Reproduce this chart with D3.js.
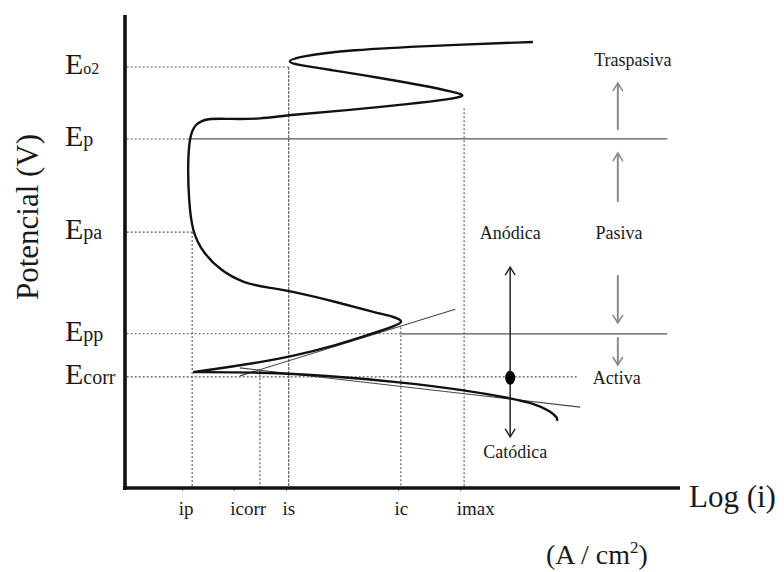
<!DOCTYPE html>
<html><head><meta charset="utf-8">
<script src="https://cdn.jsdelivr.net/npm/d3@7"></script>
<style>
html,body{margin:0;padding:0;background:#fff;}
text{font-family:"Liberation Serif","DejaVu Serif",serif;fill:#1a1a1a;}
</style></head>
<body><svg id="c" width="784" height="572"></svg>
<script>
// ---- data (arbitrary log(i) units on x, potential units on y) ----
const levelNames = ["o2", "p", "pa", "pp", "corr"];
const levelValues = [8.90, 7.38, 5.41, 3.26, 2.35];
const currentNames = ["p", "corr", "s", "c", "max"];
const currentValues = [1.21, 2.43, 2.95, 4.97, 6.11];
const currentTops = [5.41, 2.49, 8.90, 3.40, 8.03];
const tickPositions = [1.03, 1.96, 2.90, 4.92, 6.04];

const anodicX = [1.23,1.89,2.43,2.96,3.82,4.50,4.86,5.03,4.86,4.54,3.82,2.96,2.61,2.13,1.71,1.41,1.21,1.15,1.13,1.16,1.26,1.48,1.89,2.43,2.96,4.05,5.14,5.86,6.16,5.95,5.32,4.60,3.69,3.15,2.88,3.15,4.05,5.50,7.35];
const anodicY = [2.45,2.56,2.66,2.77,3.02,3.28,3.43,3.51,3.62,3.70,3.93,4.17,4.23,4.33,4.61,4.97,5.41,6.09,6.79,7.42,7.70,7.82,7.80,7.80,7.89,7.99,8.12,8.22,8.29,8.37,8.52,8.67,8.84,8.94,9.01,9.13,9.26,9.35,9.43];
const cathodicX = [1.23,2.43,3.69,4.95,6.13,6.94,7.39,7.66,7.80,7.78];
const cathodicY = [2.45,2.45,2.37,2.24,2.07,1.90,1.78,1.63,1.48,1.42];
const tafelAnodic = [[2.07,2.37],[5.95,3.78]];
const tafelCathodic = [[2.07,2.54],[8.20,1.71]];

const zoneArrows = [ // [x, yFrom, yTo]
  [8.88, 7.57, 8.56],
  [8.88, 6.05, 7.08],
  [8.88, 4.50, 3.49],
  [8.88, 3.19, 2.60]
];
const zoneLabels = ["Traspasiva", "Pasiva", "Anódica", "Activa", "Catódica"];
const zoneLabelX = [9.15, 8.90, 6.94, 8.86, 7.03];
const zoneLabelY = [8.92, 5.26, 5.26, 2.19, 0.64];
const polArrow = [6.94, 4.67, 1.08];
const restPoint = [6.94, 2.33];
const solidEnd = 9.77, dashStart = 0.03, ecorrDashEnd = 8.14;

// ---- scales ----
const svg = d3.select("#c");
const x = d3.scaleLinear().domain([0, 10]).range([125, 680]);
const y = d3.scaleLinear().domain([0, 10]).range([488, 15]);

const defs = svg.append("defs");
function marker(id, color, w) {
  defs.append("marker").attr("id", id).attr("viewBox", "-10 -6 12 12")
    .attr("refX", 0).attr("refY", 0).attr("markerWidth", 12).attr("markerHeight", 12)
    .attr("markerUnits", "userSpaceOnUse").attr("orient", "auto")
    .append("path").attr("d", "M-8,-5 L0,0 L-8,5").attr("fill", "none")
    .attr("stroke", color).attr("stroke-width", w);
}
marker("ag", "#8a8a8a", 1.6);
marker("ab", "#222", 1.4);

const g = svg.append("g");
const dash = "2,2";

// horizontal guide lines
levelValues.forEach((v, i) => {
  let dashEnd = [currentValues[2], currentValues[0], currentValues[0], currentValues[3], ecorrDashEnd][i];
  g.append("line").attr("x1", x(dashStart)).attr("x2", x(dashEnd))
    .attr("y1", y(v)).attr("y2", y(v)).attr("stroke", "#555").attr("stroke-width", 1.1)
    .attr("stroke-dasharray", dash);
  if (i === 1 || i === 3) {
    g.append("line").attr("x1", x(dashEnd)).attr("x2", x(solidEnd))
      .attr("y1", y(v)).attr("y2", y(v)).attr("stroke", "#555").attr("stroke-width", 1.3);
  }
});
// vertical guide lines
currentValues.forEach((v, i) => {
  g.append("line").attr("x1", x(v)).attr("x2", x(v))
    .attr("y1", y(currentTops[i])).attr("y2", y(0))
    .attr("stroke", "#555").attr("stroke-width", 1.1).attr("stroke-dasharray", i === 2 ? "3,1" : dash);
});

// Tafel lines
const straight = d3.line().x(d => x(d[0])).y(d => y(d[1]));
[tafelAnodic, tafelCathodic].forEach(t => {
  g.append("path").attr("d", straight(t)).attr("fill", "none")
    .attr("stroke", "#444").attr("stroke-width", 1.1);
});

// curves
const curve = d3.line().x(d => x(d[0])).y(d => y(d[1])).curve(d3.curveBasis);
g.append("path").attr("d", curve(anodicX.map((v, i) => [v, anodicY[i]])))
  .attr("fill", "none").attr("stroke", "#111").attr("stroke-width", 2.4).attr("stroke-linejoin", "round");
g.append("path").attr("d", curve(cathodicX.map((v, i) => [v, cathodicY[i]])))
  .attr("fill", "none").attr("stroke", "#111").attr("stroke-width", 2.4);

// axes
const xAxis = d3.axisBottom(x).tickValues(tickPositions).tickSize(3)
  .tickFormat((d, i) => currentNames[i]);
const xa = svg.append("g").attr("transform", `translate(0,${y(0)})`).call(xAxis);
xa.select(".domain").remove();
xa.selectAll(".tick line").attr("stroke", "#8a7a60").attr("stroke-width", 1);
xa.selectAll(".tick text").each(function(d, i) {
  const t = d3.select(this).text(null).attr("text-anchor", "start").attr("dx", -4)
    .attr("y", 12).attr("dy", "0.8em").attr("font-size", 19).attr("fill", "#1a1a1a")
    .style("font-family", '"Liberation Serif",serif');
  t.append("tspan").text("i");
  t.append("tspan").text(currentNames[i]);
});
const yAxis = d3.axisLeft(y).tickValues(levelValues).tickSize(0).tickFormat("");
const ya = svg.append("g").attr("transform", `translate(${x(0)},0)`).call(yAxis);
ya.select(".domain").remove();

svg.append("line").attr("x1", x(0)).attr("x2", x(0)).attr("y1", y(10)).attr("y2", y(0) + 2)
  .attr("stroke", "#111").attr("stroke-width", 3.6);
svg.append("line").attr("x1", x(0) - 1.8).attr("x2", x(10)).attr("y1", y(0)).attr("y2", y(0))
  .attr("stroke", "#111").attr("stroke-width", 3.6);

// level labels
levelValues.forEach((v, i) => {
  const t = svg.append("text").attr("x", 65).attr("y", y(v) + 7);
  t.append("tspan").text("E").attr("font-size", 30);
  t.append("tspan").text(levelNames[i]).attr("font-size", i === 0 ? 16 : 20);
});

// axis titles
svg.append("text").attr("transform", `translate(38,217) rotate(-90)`).attr("text-anchor", "middle")
  .attr("font-size", 31).text("Potencial (V)");
svg.append("text").attr("x", 689).attr("y", 507).attr("font-size", 31).text("Log (i)");
const un = svg.append("text").attr("x", 546).attr("y", 564).attr("font-size", 28);
un.append("tspan").text("(A / cm");
un.append("tspan").text("2").attr("font-size", 17).attr("dy", -11);
un.append("tspan").text(")").attr("dy", 11);

// zone arrows
zoneArrows.forEach(a => {
  svg.append("line").attr("x1", x(a[0])).attr("x2", x(a[0])).attr("y1", y(a[1])).attr("y2", y(a[2]))
    .attr("stroke", "#8a8a8a").attr("stroke-width", 2).attr("marker-end", "url(#ag)");
});
// polarisation arrow
svg.append("line").attr("x1", x(polArrow[0])).attr("x2", x(polArrow[0])).attr("y1", y(restPoint[1])).attr("y2", y(polArrow[1]))
  .attr("stroke", "#222").attr("stroke-width", 1.5).attr("marker-end", "url(#ab)");
svg.append("line").attr("x1", x(polArrow[0])).attr("x2", x(polArrow[0])).attr("y1", y(restPoint[1])).attr("y2", y(polArrow[2]))
  .attr("stroke", "#222").attr("stroke-width", 1.5).attr("marker-end", "url(#ab)");
svg.append("ellipse").attr("cx", x(restPoint[0])).attr("cy", y(restPoint[1])).attr("rx", 5).attr("ry", 7).attr("fill", "#000");

// zone labels
zoneLabels.forEach((s, i) => {
  svg.append("text").attr("x", x(zoneLabelX[i])).attr("y", y(zoneLabelY[i]))
    .attr("text-anchor", "middle").attr("font-size", 18).text(s);
});
</script></body></html>
